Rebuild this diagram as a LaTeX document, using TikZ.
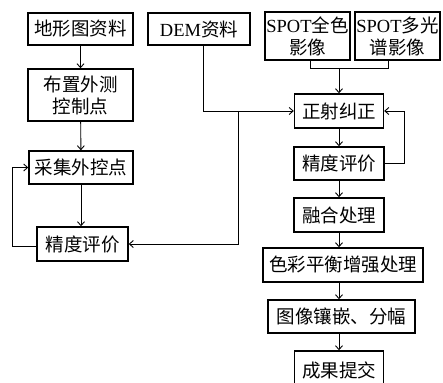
\documentclass[tikz,border=0pt]{standalone}
\usepackage{fontspec}
\setmainfont{Liberation Serif}
\newfontfamily\cjk{Noto Sans CJK SC}
\newcommand{\en}[1]{{\rmfamily #1}}
\usetikzlibrary{arrows.meta}

\begin{document}
\begin{tikzpicture}[x=1pt,y=-1pt,
    box/.style={draw,line width=1.4pt,inner sep=0pt,align=center,
      font=\fontsize{18.5}{22}\selectfont\cjk},
    wire/.style={line width=0.9pt},
    flow/.style={wire,-{Straight Barb[length=4pt,width=7pt]}}]
    \useasboundingbox (0,0) rectangle (443,382);
    % left column
    \node[box,minimum width=105pt,minimum height=32pt] (topo) at (80.5,29) {地形图资料};
    \node[box,minimum width=105pt,minimum height=52pt] (ctrl) at (80.5,95) {布置外测\\控制点};
    \node[box,minimum width=104pt,minimum height=33pt] (gcp) at (81,167.5) {采集外控点};
    \node[box,minimum width=91pt,minimum height=34pt] (evalL) at (82.5,244) {精度评价};
    \node[box,minimum width=102pt,minimum height=32pt] (dem) at (199,29) {\en{DEM}资料};
    % right column
    \node[box,minimum width=85pt,minimum height=48pt] (pan) at (307.5,36) {\en{SPOT}全色\\影像};
    \node[box,minimum width=85pt,minimum height=48pt] (msi) at (397.5,36) {\en{SPOT}多光\\谱影像};
    \node[box,minimum width=89pt,minimum height=34pt] (ortho) at (339,111) {正射纠正};
    \node[box,minimum width=90pt,minimum height=33pt] (evalR) at (339,163.5) {精度评价};
    \node[box,minimum width=90pt,minimum height=34pt] (fuse) at (339,215) {融合处理};
    \node[box,minimum width=160pt,minimum height=34pt] (color) at (343,265) {色彩平衡增强处理};
    \node[box,minimum width=147pt,minimum height=33pt] (mosaic) at (341.5,316.5) {图像镶嵌、分幅};
    \node[box,minimum width=89pt,minimum height=38pt] (submit) at (339,370) {成果提交};
    % junctions
    \coordinate (demturn) at (203,111);
    \coordinate (split) at (238,111);
    \coordinate (joinL) at (310,68);
    \coordinate (joinR) at (388,68);
    \coordinate (joinM) at (339,68);
    % left flow
    \draw[flow] (topo) -- (ctrl);
    \draw[flow] (ctrl) -- (gcp);
    \draw[flow] (gcp.south) -- (gcp.south |- evalL.north);
    \draw[flow] ([yshift=-2pt]evalL.west) -- ++(-24,0) |- (gcp.west);
    % DEM
    \draw[flow] (dem.south -| demturn) -- (demturn) -- (ortho.west);
    \draw[flow] (split) |- (evalL.east);
    % SPOT
    \draw[wire] (pan.south -| joinL) -- (joinL) -- (joinR) -- (msi.south -| joinR);
    \draw[flow] (joinM) -- (ortho.north);
    % right flow
    \draw[flow] (ortho) -- (evalR);
    \draw[flow] (evalR.east) -- ++(20,0) |- (ortho.east);
    \draw[flow] (evalR) -- (fuse);
    \draw[flow] (fuse.south) -- (fuse.south |- color.north);
    \draw[flow] (fuse.south |- color.south) -- (fuse.south |- mosaic.north);
    \draw[flow] (fuse.south |- mosaic.south) -- (submit.north);
\end{tikzpicture}
\end{document}
